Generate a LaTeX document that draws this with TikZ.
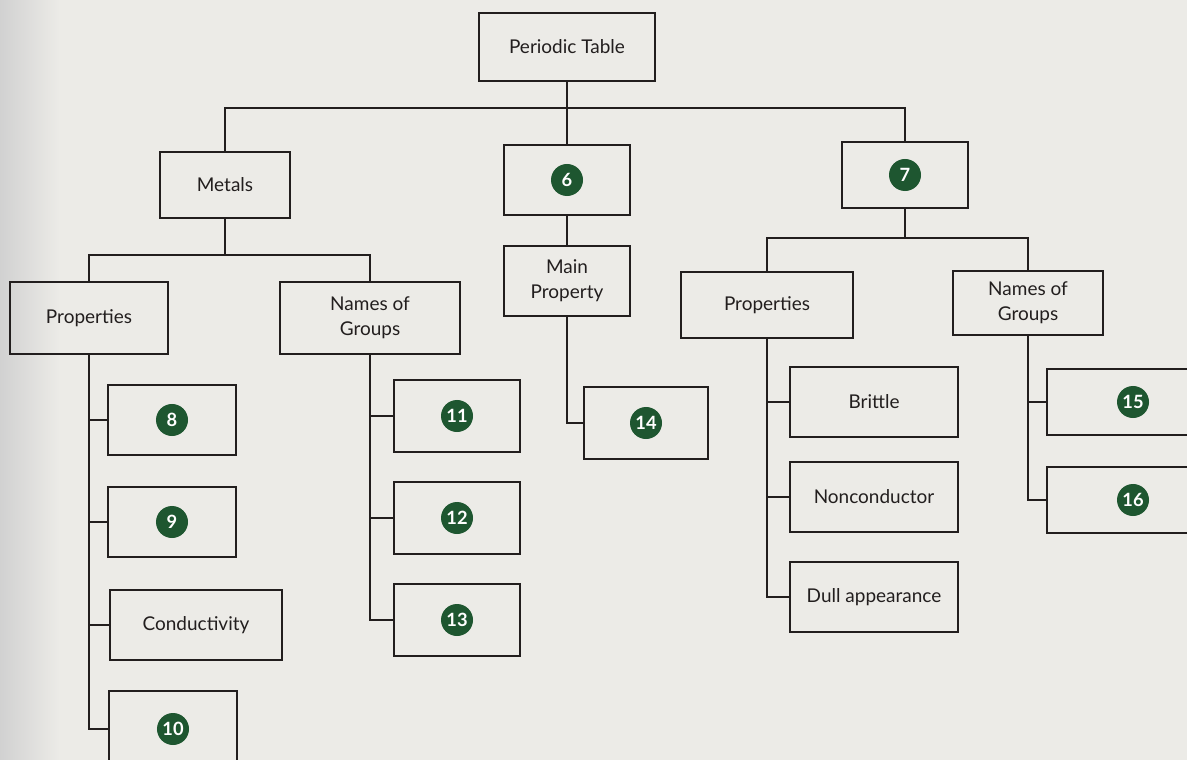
\documentclass[tikz,border=0pt]{standalone}
\usepackage{fontspec}
\setmainfont{Lato}
\usetikzlibrary{positioning}
\definecolor{paper}{RGB}{236,235,231}
\definecolor{ink}{RGB}{34,30,30}
\definecolor{badgegreen}{RGB}{30,86,48}

\begin{document}
\begin{tikzpicture}[
    x=0.025cm, y=-0.025cm,
    every node/.style={font=\fontsize{13.5}{17.5}\selectfont, text=ink},
    box/.style={rectangle, draw=ink, line width=2pt, minimum width=3.15cm, minimum height=1.75cm, align=center, inner sep=2pt},
    badge/.style={circle, fill=badgegreen, text=white, font=\bfseries\fontsize{13}{13}\selectfont, minimum size=0.8cm, inner sep=0pt},
    link/.style={draw=ink, line width=2pt}
]
    \clip (0,0) rectangle (1187,760);
    \fill[paper] (0,0) rectangle (1187,760);
    \shade[left color=black!18, right color=paper] (0,0) rectangle (60,760);

    % Top level
    \node[box, minimum width=4.4cm, minimum height=1.7cm] (table) at (567,47) {Periodic Table};
    \node[box, minimum width=3.25cm, minimum height=1.65cm] (metals) at (225,185) {Metals};
    \node[box, label={[badge]center:6}] (six) at (567,180) {};
    \node[box, minimum height=1.65cm, label={[badge]center:7}] (seven) at (905,175) {};

    % Metals branch
    \node[box, minimum width=3.95cm, minimum height=1.8cm] (propL) at (89,318) {Properties};
    \node[box, minimum width=4.5cm, minimum height=1.8cm] (namesL) at (370,318) {Names of\\Groups};
    \node[box, minimum width=3.2cm, label={[badge]center:8}] (n8) at (172,420) {};
    \node[box, minimum width=3.2cm, label={[badge]center:9}] (n9) at (172,522) {};
    \node[box, minimum width=4.3cm] (cond) at (196,625) {Conductivity};
    \node[box, minimum width=3.2cm, minimum height=1.9cm, label={[badge]center:10}] (n10) at (173,729) {};
    \node[box, minimum height=1.8cm, label={[badge]center:11}] (n11) at (457,416) {};
    \node[box, minimum height=1.8cm, label={[badge]center:12}] (n12) at (457,518) {};
    \node[box, minimum height=1.8cm, label={[badge]center:13}] (n13) at (457,620) {};

    % Middle branch
    \node[box] (mainprop) at (567,281) {Main\\Property};
    \node[box, minimum width=3.1cm, minimum height=1.8cm, label={[badge]center:14}] (n14) at (646,423) {};

    % Right branch
    \node[box, minimum width=4.3cm, minimum height=1.65cm] (propR) at (767,305) {Properties};
    \node[box, minimum width=3.75cm, minimum height=1.6cm] (namesR) at (1028,303) {Names of\\Groups};
    \node[box, minimum width=4.2cm] (brittle) at (874,402) {Brittle};
    \node[box, minimum width=4.2cm] (noncond) at (874,497) {Nonconductor};
    \node[box, minimum width=4.2cm] (dull) at (874,597) {Dull appearance};
    \node[box, minimum width=4.3cm, minimum height=1.65cm, label={[badge]center:15}] (n15) at (1133,402) {};
    \node[box, minimum width=4.3cm, minimum height=1.65cm, label={[badge]center:16}] (n16) at (1133,500) {};

    % Connectors
    \coordinate (top) at (567,108);
    \draw[link] (table) -- (top);
    \draw[link] (metals.north) |- (top) -| (seven.north);
    \draw[link] (top) -- (six.north);
    \draw[link] (six) -- (mainprop);

    \coordinate (mid) at (225,255);
    \draw[link] (metals) -- (mid);
    \draw[link] (propL.north) |- (mid) -| (namesL.north);
    \foreach \leaf in {n8,n9,cond,n10}
        \draw[link] (propL.south) |- (\leaf.west);
    \foreach \leaf in {n11,n12,n13}
        \draw[link] (namesL.south) |- (\leaf.west);
    \draw[link] (mainprop.south) |- (n14.west);

    \coordinate (right) at (905,238);
    \draw[link] (seven) -- (right);
    \draw[link] (propR.north) |- (right) -| (namesR.north);
    \foreach \leaf in {brittle,noncond,dull}
        \draw[link] (propR.south) |- (\leaf.west);
    \foreach \leaf in {n15,n16}
        \draw[link] (namesR.south) |- (\leaf.west);
\end{tikzpicture}
\end{document}
